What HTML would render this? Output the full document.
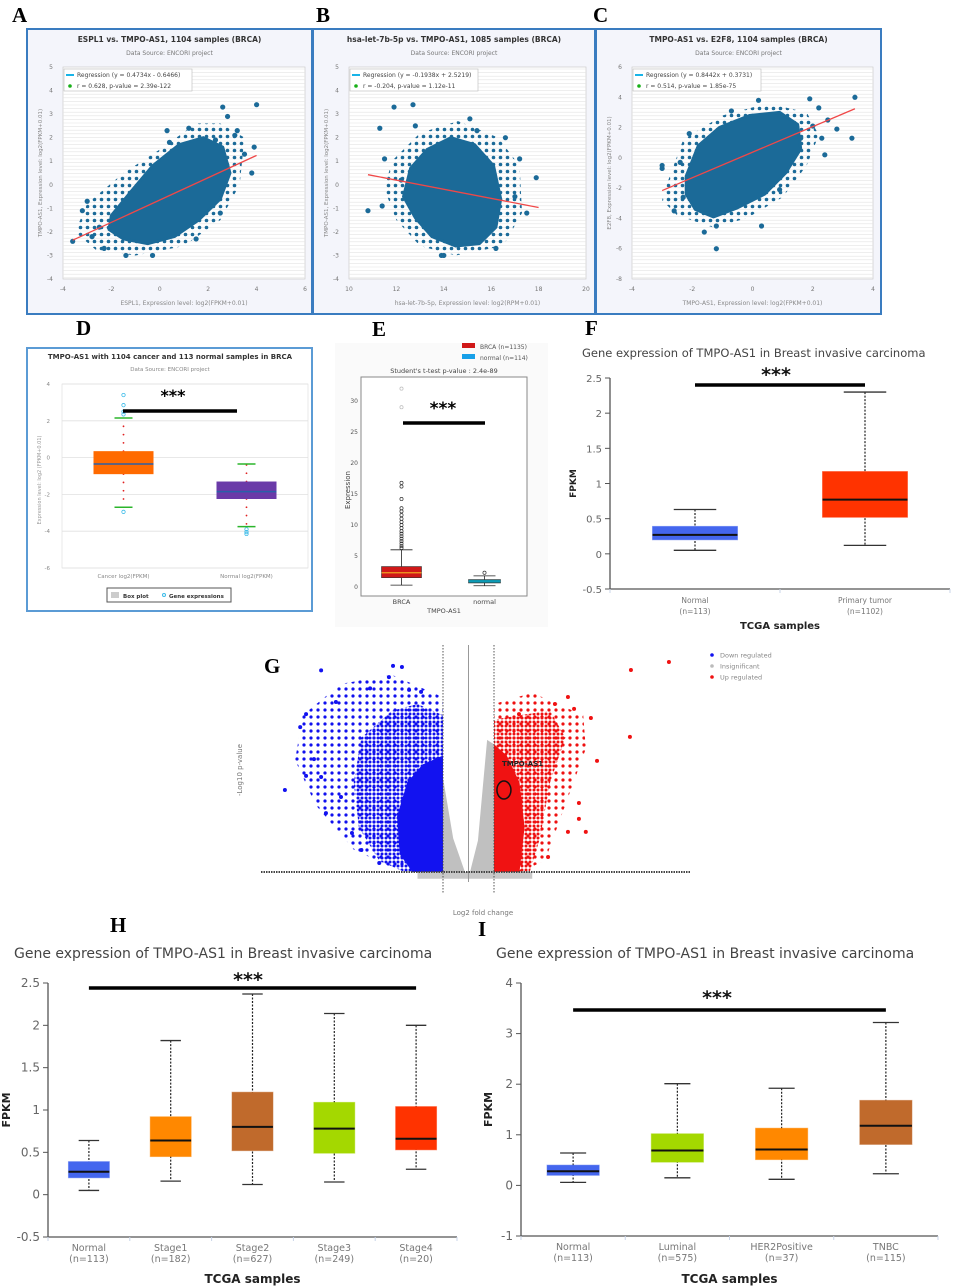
<!DOCTYPE html>
<html><head><meta charset="utf-8">
<style>
html,body{margin:0;padding:0;background:#fff;}
svg{display:block;font-family:"DejaVu Sans","Liberation Sans",sans-serif;}
.lbl{font-family:"Liberation Serif",serif;font-weight:bold;font-size:21px;fill:#000;}
</style></head>
<body>
<svg id="fig" width="955" height="1286" viewBox="0 0 955 1286" xmlns="http://www.w3.org/2000/svg">
<defs>
<pattern id="bluemed" width="4" height="4" patternUnits="userSpaceOnUse"><circle cx="2" cy="2" r="1.5" fill="#1010ee"/></pattern>
<pattern id="bluesparse" width="7" height="7" patternUnits="userSpaceOnUse"><circle cx="3" cy="3" r="1.6" fill="#1010ee"/></pattern>
<pattern id="redmed" width="4" height="4" patternUnits="userSpaceOnUse"><circle cx="2" cy="2" r="1.5" fill="#ee1010"/></pattern>
<pattern id="redsparse" width="7" height="7" patternUnits="userSpaceOnUse"><circle cx="3" cy="3" r="1.6" fill="#ee1010"/></pattern>
<pattern id="scatdots" width="7" height="7" patternUnits="userSpaceOnUse"><circle cx="3.5" cy="3.5" r="1.8" fill="#1b6a98"/></pattern>
</defs>
<text class="lbl" x="12" y="22">A</text>
<text class="lbl" x="316" y="22">B</text>
<text class="lbl" x="593" y="22">C</text>
<text class="lbl" x="76" y="335">D</text>
<text class="lbl" x="372" y="336">E</text>
<text class="lbl" x="585" y="335">F</text>
<text class="lbl" x="264" y="673">G</text>
<text class="lbl" x="110" y="932">H</text>
<text class="lbl" x="478" y="936">I</text>
</svg>
<script>
// ===== Panel A data =====
const aCloudX=[-2.0,-1.2,-0.3,0.8,1.8,2.6,2.9,2.5,1.6,0.6,-0.5,-1.5,-2.1];
const aCloudY=[-1.3,-0.3,0.8,1.7,2.0,1.6,0.5,-0.6,-1.5,-2.2,-2.5,-2.3,-1.9];
const aSparseX=[-3.0,-1.5,0.0,1.5,2.5,3.5,3.3,2.5,1.0,-1.0,-2.6,-3.5];
const aSparseY=[-0.8,0.5,1.5,2.6,2.6,2.0,0.0,-1.5,-2.6,-3.0,-2.8,-2.0];
const aPtsX=[-3.6,-3.0,-2.5,-2.3,-1.4,-0.3,2.6,4.0,2.8,1.2,3.2,3.9,3.8,3.5,-3.2,-2.8,2.3,0.4,1.5,2.5,3.1,0.3];
const aPtsY=[-2.4,-0.7,-1.8,-2.7,-3.0,-3.0,3.3,3.4,2.9,2.4,2.3,1.6,0.5,1.3,-1.1,-2.2,1.9,1.8,-2.3,-1.2,2.1,2.3];
const aXTicks=[-4,-2,0,2,4,6];
const aYTicks=[5,4,3,2,1,0,-1,-2,-3,-4];
const aReg=[0.4734,-0.6466]; const aRegRange=[-3.6,4.0];
// ===== Panel B data =====
const bCloudX=[12.6,13.3,14.3,15.3,16.1,16.4,16.2,15.5,14.5,13.5,12.8,12.3];
const bCloudY=[0.7,1.5,2.0,1.7,0.8,-0.6,-1.8,-2.5,-2.6,-2.2,-1.4,-0.5];
const bSparseX=[11.8,13.0,14.6,16.3,17.2,17.3,16.5,14.5,13.0,12.0,11.5];
const bSparseY=[1.0,2.2,2.7,2.0,0.8,-1.2,-2.6,-3.0,-2.6,-1.5,-0.2];
const bPtsX=[11.9,12.7,12.8,11.3,11.5,10.8,11.4,15.1,15.4,16.6,17.2,17.9,17.5,13.9,14.0,16.2,12.2,17.0];
const bPtsY=[3.3,3.4,2.5,2.4,1.1,-1.1,-0.9,2.8,2.3,2.0,1.1,0.3,-1.2,-3.0,-3.0,-2.7,0.2,-0.5];
const bXTicks=[10,12,14,16,18,20];
const bYTicks=[5,4,3,2,1,0,-1,-2,-3,-4];
const bReg=[-0.1938,2.5219]; const bRegRange=[10.8,18.0];
// ===== Panel C data =====
const cCloudX=[-2.2,-1.8,-1.1,-0.1,0.9,1.5,1.6,1.1,0.4,-0.5,-1.3,-1.9,-2.2];
const cCloudY=[-1.2,0.8,2.0,2.8,3.0,2.2,0.6,-1.0,-2.4,-3.3,-3.9,-3.4,-2.4];
const cSparseX=[-2.8,-2.3,-1.0,0.5,1.8,2.2,1.8,1.0,-0.2,-1.3,-2.5,-3.0];
const cSparseY=[-1.5,1.2,2.8,3.6,3.0,1.5,-0.5,-2.6,-4.0,-4.6,-3.8,-2.8];
const cPtsX=[-3.0,-3.0,-2.6,-2.3,-1.6,-1.2,-1.2,0.3,-0.7,0.2,1.9,3.4,2.2,2.8,3.3,2.4,2.3,2.5,-2.1,-2.4,0.9,1.6,2.0];
const cPtsY=[-0.5,-0.7,-3.5,-2.6,-4.9,-6.0,-4.5,-4.5,3.1,3.8,3.9,4.0,3.3,1.9,1.3,0.2,1.3,2.5,1.6,-0.3,-2.1,1.3,2.1];
const cXTicks=[-4,-2,0,2,4];
const cYTicks=[6,4,2,0,-2,-4,-6,-8];
const cReg=[0.8442,0.3731]; const cRegRange=[-3.0,3.4];
// ===== Panel D data =====
const dCats=["Cancer log2(FPKM)","Normal log2(FPKM)"];
const dMin=[-2.7,-3.75], dQ1=[-0.9,-2.25], dMed=[-0.35,-1.85], dQ3=[0.35,-1.3], dMax=[2.15,-0.35];
const dOutliers=[[3.4,2.85,2.5,2.35,-2.95],[-3.9,-4.05,-4.15]];
const dYTicks=[4,2,0,-2,-4,-6];
// ===== Panel E data =====
const eCats=["BRCA","normal"];
const eMin=[0.3,0.2], eQ1=[1.5,0.65], eMed=[2.3,0.95], eQ3=[3.3,1.2], eMax=[6.0,1.8];
const eOutliers=[[6.3,6.6,7.0,7.4,7.8,8.2,8.6,9.0,9.5,10.0,10.5,11.0,11.6,12.2,12.7,14.2,16.2,16.8,29.0,32.0],[2.3]];
const eYTicks=[0,5,10,15,20,25,30];
// ===== Panel F data =====
const fCats=["Normal","Primary tumor"], fN=["(n=113)","(n=1102)"];
const fMin=[0.05,0.12], fQ1=[0.2,0.52], fMed=[0.27,0.77], fQ3=[0.39,1.17], fMax=[0.63,2.3];
const fYTicks=[2.5,2,1.5,1,0.5,0,-0.5];
// ===== Panel H data =====
const hCats=["Normal","Stage1","Stage2","Stage3","Stage4"], hN=["(n=113)","(n=182)","(n=627)","(n=249)","(n=20)"];
const hMin=[0.05,0.16,0.12,0.15,0.3], hQ1=[0.2,0.45,0.52,0.49,0.53], hMed=[0.27,0.64,0.8,0.78,0.66], hQ3=[0.39,0.92,1.21,1.09,1.04], hMax=[0.64,1.82,2.37,2.14,2.0];
const hYTicks=[2.5,2,1.5,1,0.5,0,-0.5];
// ===== Panel I data =====
const iCats=["Normal","Luminal","HER2Positive","TNBC"], iN=["(n=113)","(n=575)","(n=37)","(n=115)"];
const iMin=[0.06,0.15,0.12,0.23], iQ1=[0.2,0.46,0.51,0.81], iMed=[0.28,0.69,0.71,1.18], iQ3=[0.4,1.02,1.13,1.68], iMax=[0.64,2.01,1.92,3.22];
const iYTicks=[4,3,2,1,0,-1];
// ===== Panel G (volcano) data =====
const gBlueDenseX=[-1,-1,-1.8,-2.4,-2.8,-2.7,-2.2];
const gBlueDenseY=[0,52,48,40,25,8,0];
const gBlueMedX=[-1,-1,-2,-3,-4.2,-4.5,-4.3,-3.5,-2.5];
const gBlueMedY=[0,70,75,72,60,40,20,5,0];
const gBlueSparseX=[-1,-1,-3,-5,-6.5,-6.8,-6,-4.5,-3];
const gBlueSparseY=[0,78,88,84,70,50,30,10,2];
const gRedDenseX=[1,1,1.5,2.0,2.2,2.0];
const gRedDenseY=[0,57,52,40,20,0];
const gRedMedX=[1,1,2,3.2,3.8,3.2,2.8,2.4];
const gRedMedY=[0,68,70,72,60,40,15,0];
const gRedSparseX=[1,1,2.5,4.5,4.6,3.8,3.0,2.0];
const gRedSparseY=[0,75,80,70,55,30,5,0];
const gGreyLX=[-1,-1,-0.6,-0.14]; const gGreyLY=[0,42,15,0];
const gGreyRX=[1,1,0.73,0.37,0.06]; const gGreyRY=[0,57,59,14,0];
const gGreyBandX=[-2,2.5,2.5,-2]; const gGreyBandY=[0,0,-3,-3];
const gBlueX=[-5.78,-2.96,-2.61,-6.37,-6.6,-7.2,-6.06,-5.59,-5.2,-4.57,-4.2,-3.5,-3.86,-1.86,-2.33,-3.12,-6.37,-5.0,-5.78];
const gBlueY=[90,92,91.5,70.5,64.7,36.6,50.4,26.3,75.9,17.4,9.8,4,82,80.4,81.3,87,42.9,33.5,42.4];
const gRedX=[7.86,6.37,6.33,3.9,3.39,4.14,4.8,5.04,4.33,4.33,4.6,3.9,3.12,1.98];
const gRedY=[93.75,90.2,60.3,78.1,75,72.8,68.75,49.6,30.8,23.7,17.9,17.9,6.7,70.5];
const gTarget=[1.39,36.6];

const NS="http://www.w3.org/2000/svg";
const fig=document.getElementById('fig');
function el(tag,attrs,parent,txt){const e=document.createElementNS(NS,tag);for(const k in attrs)e.setAttribute(k,attrs[k]);if(txt!==undefined)e.textContent=txt;(parent||fig).appendChild(e);return e;}
function lin(d0,d1,p0,p1){return v=>p0+(v-d0)*(p1-p0)/(d1-d0);}

// ================= scatter panels =================
function scatterPanel(name,geo,title,xlab,ylab,regTxt,statTxt,cx,cy,sx,sy,px,py,xt,yt,reg,rr){
  const g=el('g',{},fig);  
  el('rect',{x:geo.bx,y:29,width:geo.bw,height:285,fill:'#f4f5fb',stroke:'#3a7cc0','stroke-width':2},g);
  const t=el('text',{x:geo.bx+geo.bw/2,y:42,'text-anchor':'middle','font-size':7.5,'font-weight':'bold',fill:'#333'},g,title);
   
  el('text',{x:geo.bx+geo.bw/2,y:55,'text-anchor':'middle','font-size':6,fill:'#777'},g,'Data Source: ENCORI project');
  const X=lin(geo.xd[0],geo.xd[1],geo.px0,geo.px1), Y=lin(geo.yd[0],geo.yd[1],67,279);
  el('rect',{x:geo.px0,y:67,width:geo.px1-geo.px0,height:212,fill:'#fff',stroke:'#ccc','stroke-width':0.7},g);
  for(let yy=69;yy<279;yy+=3.6) el('line',{x1:geo.px0,x2:geo.px1,y1:yy,y2:yy,stroke:'#e3e3e3','stroke-width':0.6},g);
  xt.forEach(v=>{const tk=el('text',{x:X(v),y:291,'text-anchor':'middle','font-size':6,fill:'#777'},g,v);  });
  yt.forEach(v=>{const tk=el('text',{x:geo.px0-10,y:Y(v)+2,'text-anchor':'end','font-size':6,fill:'#777'},g,v);  });
  const xl=el('text',{x:(geo.px0+geo.px1)/2,y:305,'text-anchor':'middle','font-size':6,fill:'#888'},g,xlab);  
  const yl=el('text',{x:0,y:0,'text-anchor':'middle','font-size':5.5,fill:'#888',transform:`translate(${geo.px0-21},173) rotate(-90)`},g,ylab);  
  const sp=el('polygon',{points:sx.map((v,i)=>X(v)+','+Y(sy[i])).join(' '),fill:'url(#scatdots)'},g);
   
  const cloud=el('polygon',{points:cx.map((v,i)=>X(v)+','+Y(cy[i])).join(' '),fill:'#1b6a98',stroke:'#1b6a98','stroke-width':3,'stroke-linejoin':'round'},g);
   
  px.forEach((v,i)=>{const c=el('circle',{cx:X(v),cy:Y(py[i]),r:2.6,fill:'#1b6a98'},g);  });
  const rl=el('line',{x1:X(rr[0]),y1:Y(reg[0]*rr[0]+reg[1]),x2:X(rr[1]),y2:Y(reg[0]*rr[1]+reg[1]),stroke:'#f04848','stroke-width':1.3},g);
   
  const lg=el('g',{},g);  
  el('rect',{x:geo.px0+1,y:69,width:128,height:22,fill:'#fff',stroke:'#bbb','stroke-width':0.6},lg);
  el('line',{x1:geo.px0+3,x2:geo.px0+11,y1:75,y2:75,stroke:'#18b4e8','stroke-width':2},lg);
  el('text',{x:geo.px0+14,y:77,'font-size':6,fill:'#444'},lg,regTxt);
  el('circle',{cx:geo.px0+7,cy:86,r:1.8,fill:'#18b018'},lg);
  el('text',{x:geo.px0+14,y:88,'font-size':6,fill:'#444'},lg,statTxt);
}
scatterPanel('scatter-panel-a',{bx:27,bw:285,xd:[-4,6],yd:[5,-4],px0:63,px1:305},'ESPL1 vs. TMPO-AS1, 1104 samples (BRCA)','ESPL1, Expression level: log2(FPKM+0.01)','TMPO-AS1, Expression level: log2(FPKM+0.01)','Regression (y = 0.4734x - 0.6466)','r = 0.628, p-value = 2.39e-122',aCloudX,aCloudY,aSparseX,aSparseY,aPtsX,aPtsY,aXTicks,aYTicks,aReg,aRegRange);
scatterPanel('scatter-panel-b',{bx:313,bw:282,xd:[10,20],yd:[5,-4],px0:349,px1:586},'hsa-let-7b-5p vs. TMPO-AS1, 1085 samples (BRCA)','hsa-let-7b-5p, Expression level: log2(RPM+0.01)','TMPO-AS1, Expression level: log2(FPKM+0.01)','Regression (y = -0.1938x + 2.5219)','r = -0.204, p-value = 1.12e-11',bCloudX,bCloudY,bSparseX,bSparseY,bPtsX,bPtsY,bXTicks,bYTicks,bReg,bRegRange);
scatterPanel('scatter-panel-c',{bx:596,bw:285,xd:[-4,4],yd:[6,-8],px0:632,px1:873},'TMPO-AS1 vs. E2F8, 1104 samples (BRCA)','TMPO-AS1, Expression level: log2(FPKM+0.01)','E2F8, Expression level: log2(FPKM+0.01)','Regression (y = 0.8442x + 0.3731)','r = 0.514, p-value = 1.85e-75',cCloudX,cCloudY,cSparseX,cSparseY,cPtsX,cPtsY,cXTicks,cYTicks,cReg,cRegRange);

// ================= Panel D =================
(function(){
  const g=el('g',{},fig);  
  el('rect',{x:27,y:348,width:285,height:263,fill:'#fff',stroke:'#5b9bd5','stroke-width':2},g);
  el('text',{x:170,y:359,'text-anchor':'middle','font-size':7,'font-weight':'bold',fill:'#333'},g,'TMPO-AS1 with 1104 cancer and 113 normal samples in BRCA');
  el('text',{x:170,y:371,'text-anchor':'middle','font-size':5.5,fill:'#888'},g,'Data Source: ENCORI project');
  const Y=lin(4,-6,384,568); const x0=62,x1=308,step=(x1-x0)/2;
  el('rect',{x:x0,y:384,width:x1-x0,height:184,fill:'#fff',stroke:'#ddd','stroke-width':0.6},g);
  dYTicks.forEach(v=>{el('line',{x1:x0,x2:x1,y1:Y(v),y2:Y(v),stroke:'#e0e0e0','stroke-width':0.8},g);
    const t=el('text',{x:x0-12,y:Y(v)+2,'text-anchor':'end','font-size':5.5,fill:'#888'},g,v);  });
  el('text',{x:0,y:0,'text-anchor':'middle','font-size':5,fill:'#999',transform:'translate(41,480) rotate(-90)'},g,'Expression level: log2 (FPKM+0.01)');
  const cols=['#ff6a00','#6a3aa8'];
  dCats.forEach((c,i)=>{
    const cx=x0+step*(i+0.5), hw=30;
    const b=el('g',{},g);  
    for(let v=dQ3[i];v<dMax[i];v+=0.45) el('circle',{cx:cx,cy:Y(v),r:0.9,fill:'#e02020'},b);
    for(let v=dQ1[i];v>dMin[i];v-=0.45) el('circle',{cx:cx,cy:Y(v),r:0.9,fill:'#e02020'},b);
    el('rect',{x:cx-hw,y:Y(dQ3[i]),width:hw*2,height:Y(dQ1[i])-Y(dQ3[i]),fill:cols[i]},b);
    el('line',{x1:cx-hw,x2:cx+hw,y1:Y(dMed[i]),y2:Y(dMed[i]),stroke:'#2a5fa8','stroke-width':1.5},b);
    [dMax[i],dMin[i]].forEach(v=>el('line',{x1:cx-9,x2:cx+9,y1:Y(v),y2:Y(v),stroke:'#2bb52b','stroke-width':1.5},b));
    dOutliers[i].forEach(v=>el('circle',{cx:cx,cy:Y(v),r:1.7,fill:'none',stroke:'#3bbbe8','stroke-width':0.8},b));
    el('text',{x:cx,y:578,'text-anchor':'middle','font-size':5.5,fill:'#888'},g,c);
  });
  el('line',{x1:123,x2:237,y1:411,y2:411,stroke:'#000','stroke-width':3.5},g);
  el('text',{x:173,y:401,'text-anchor':'middle','font-size':16,'font-weight':'bold',fill:'#000'},g,'***');
  const lg=el('g',{},g);  
  el('rect',{x:107,y:588,width:124,height:14,fill:'#fff',stroke:'#555','stroke-width':1},lg);
  el('rect',{x:111,y:592,width:8,height:6,fill:'#ccc'},lg);
  el('text',{x:123,y:598,'font-size':5.5,'font-weight':'bold',fill:'#333'},lg,'Box plot');
  el('circle',{cx:164,cy:595,r:1.5,fill:'none',stroke:'#3bbbe8'},lg);
  el('text',{x:169,y:598,'font-size':5.5,'font-weight':'bold',fill:'#333'},lg,'Gene expressions');
})();

// ================= Panel E =================
(function(){
  const g=el('g',{},fig);  
  el('rect',{x:335,y:343,width:213,height:284,fill:'#fafafa'},g);
  const Y=lin(0,30,587,401); const x0=361,x1=527,step=(x1-x0)/2;
  el('rect',{x:x0,y:377,width:x1-x0,height:219,fill:'#fff',stroke:'#888','stroke-width':1},g);
  eYTicks.forEach(v=>{const t=el('text',{x:x0-3,y:Y(v)+2,'text-anchor':'end','font-size':6,fill:'#555'},g,v);  });
  el('text',{x:0,y:0,'text-anchor':'middle','font-size':7,fill:'#444',transform:'translate(350,490) rotate(-90)'},g,'Expression');
  el('text',{x:444,y:373,'text-anchor':'middle','font-size':6.5,fill:'#444'},g,"Student's t-test p-value : 2.4e-89");
  const cols=['#d01818','#108898'], mcols=['#f0a020','#0aa0c0'];
  eCats.forEach((c,i)=>{
    const cx=x0+step*(i+0.5)-1, hw=i?16:20;
    const b=el('g',{},g);  
    el('line',{x1:cx,x2:cx,y1:Y(eMin[i]),y2:Y(eMax[i]),stroke:'#222','stroke-width':0.8},b);
    [eMin[i],eMax[i]].forEach(v=>el('line',{x1:cx-11,x2:cx+11,y1:Y(v),y2:Y(v),stroke:'#222','stroke-width':0.8},b));
    eOutliers[i].forEach(v=>el('circle',{cx:cx,cy:Y(v),r:1.6,fill:'none',stroke:v>20?'#bbb':'#333','stroke-width':0.7},b));
    el('rect',{x:cx-hw,y:Y(eQ3[i]),width:hw*2,height:Y(eQ1[i])-Y(eQ3[i]),fill:cols[i],stroke:'#333','stroke-width':0.6},b);
    el('line',{x1:cx-hw,x2:cx+hw,y1:Y(eMed[i]),y2:Y(eMed[i]),stroke:mcols[i],'stroke-width':1.3},b);
    el('text',{x:cx,y:604,'text-anchor':'middle','font-size':6.5,fill:'#444'},g,c);
  });
  el('text',{x:444,y:613,'text-anchor':'middle','font-size':6.5,fill:'#444'},g,'TMPO-AS1');
  el('line',{x1:403,x2:485,y1:423,y2:423,stroke:'#000','stroke-width':3.5},g);
  el('text',{x:443,y:414,'text-anchor':'middle','font-size':17,'font-weight':'bold',fill:'#000'},g,'***');
  const lg=el('g',{},g);  
  el('rect',{x:462,y:343,width:13,height:5,fill:'#d01818'},lg);
  el('text',{x:480,y:349,'font-size':6,fill:'#555'},lg,'BRCA (n=1135)');
  el('rect',{x:462,y:354,width:13,height:5,fill:'#18a0e8'},lg);
  el('text',{x:480,y:360,'font-size':6,fill:'#555'},lg,'normal (n=114)');
})();

// ================= FPKM boxplots (F, H, I) =================
function fpkmPanel(name,geo,title,cats,ns,mn,q1,md,q3,mx,cols,ticks,bar){
  const g=el('g',{},fig);  
  const t=el('text',{x:geo.tx,y:geo.ty,'font-size':geo.tfs,fill:'#444'},g,title);  
  const Y=lin(ticks[0],ticks[ticks.length-1],geo.yTop,geo.yBot);
  const step=(geo.x1-geo.x0)/cats.length;
  el('line',{x1:geo.x0,x2:geo.x0,y1:geo.yTop,y2:geo.yBot,stroke:'#555','stroke-width':1.3},g);
  el('line',{x1:geo.x0,x2:geo.x1,y1:geo.yBot,y2:geo.yBot,stroke:'#555','stroke-width':1.3},g);
  ticks.forEach(v=>{el('line',{x1:geo.x0-5,x2:geo.x0,y1:Y(v),y2:Y(v),stroke:'#555','stroke-width':1},g);
    const tk=el('text',{x:geo.x0-8,y:Y(v)+4,'text-anchor':'end','font-size':geo.fs,fill:'#666'},g,v);  });
  for(let k=0;k<=cats.length;k++) el('line',{x1:geo.x0+step*k,x2:geo.x0+step*k,y1:geo.yBot,y2:geo.yBot+4,stroke:'#c8d4e8','stroke-width':1},g);
  const yl=el('text',{x:0,y:0,'text-anchor':'middle','font-size':geo.fs-1,'font-weight':'bold',fill:'#222',transform:`translate(${geo.ylx},${(geo.yTop+geo.yBot)/2}) rotate(-90)`},g,'FPKM');  
  cats.forEach((c,i)=>{
    const cx=geo.x0+step*(i+0.5), hw=step*0.25;
    const b=el('g',{},g);  
    el('line',{x1:cx,x2:cx,y1:Y(mx[i]),y2:Y(mn[i]),stroke:'#222','stroke-width':1.2,'stroke-dasharray':'2,1.5'},b);
    [mx[i],mn[i]].forEach(v=>el('line',{x1:cx-hw/2,x2:cx+hw/2,y1:Y(v),y2:Y(v),stroke:'#333','stroke-width':1.3},b));
    el('rect',{x:cx-hw,y:Y(q3[i]),width:hw*2,height:Y(q1[i])-Y(q3[i]),fill:cols[i],stroke:cols[i],'stroke-opacity':0.5,'stroke-width':1},b);
    el('line',{x1:cx-hw,x2:cx+hw,y1:Y(md[i]),y2:Y(md[i]),stroke:'#111','stroke-width':2},b);
    const cl=el('text',{x:cx,y:geo.yBot+14,'text-anchor':'middle','font-size':geo.fs-2.5,fill:'#777'},g,c);  
    el('text',{x:cx,y:geo.yBot+25,'text-anchor':'middle','font-size':geo.fs-2.5,fill:'#777'},g,ns[i]);
  });
  const xl=el('text',{x:(geo.x0+geo.x1)/2,y:geo.xly,'text-anchor':'middle','font-size':geo.fs,'font-weight':'bold',fill:'#222'},g,'TCGA samples');  
  const c0=geo.x0+step*0.5, c1=geo.x0+step*(cats.length-0.5);
  const sb=el('line',{x1:c0,x2:c1,y1:bar.y,y2:bar.y,stroke:'#000','stroke-width':3.5},g);  
  el('text',{x:bar.sx,y:bar.sy,'text-anchor':'middle','font-size':19,'font-weight':'bold',fill:'#111'},g,'***');
}
fpkmPanel('boxplot-panel-f',{x0:610,x1:950,yTop:378,yBot:589,tx:582,ty:357,tfs:11.5,fs:10,ylx:576,xly:629},'Gene expression of TMPO-AS1 in Breast invasive carcinoma',fCats,fN,fMin,fQ1,fMed,fQ3,fMax,['#4466ee','#ff3300'],fYTicks,{y:385,sx:776,sy:381});
fpkmPanel('boxplot-panel-h',{x0:48,x1:457,yTop:983,yBot:1237,tx:14,ty:958,tfs:14,fs:12,ylx:10,xly:1283},'Gene expression of TMPO-AS1 in Breast invasive carcinoma',hCats,hN,hMin,hQ1,hMed,hQ3,hMax,['#4466ee','#ff8800','#c06a2c','#a4d800','#ff3300'],hYTicks,{y:988,sx:248,sy:986});
fpkmPanel('boxplot-panel-i',{x0:521,x1:938,yTop:983,yBot:1236,tx:496,ty:958,tfs:14,fs:12,ylx:492,xly:1283},'Gene expression of TMPO-AS1 in Breast invasive carcinoma',iCats,iN,iMin,iQ1,iMed,iQ3,iMax,['#4466ee','#a4d800','#ff8800','#c06a2c'],iYTicks,{y:1010,sx:717,sy:1004});

// ================= Panel G volcano =================
(function(){
  const g=el('g',{},fig);  
  const X=v=>468.5+v*25.5, Y=v=>872-v*2.24;
  const poly=(xs,ys,fill,nm)=>{const p=el('polygon',{points:xs.map((v,i)=>X(v)+','+Y(ys[i])).join(' '),fill:fill},g);  };
  poly(gBlueSparseX,gBlueSparseY,'url(#bluesparse)','down-sparse-region');
  poly(gRedSparseX,gRedSparseY,'url(#redsparse)','up-sparse-region');
  poly(gBlueMedX,gBlueMedY,'url(#bluemed)','down-medium-region');
  poly(gRedMedX,gRedMedY,'url(#redmed)','up-medium-region');
  poly(gGreyBandX,gGreyBandY,'#c8c8c8','insignificant-band');
  poly(gGreyLX,gGreyLY,'#c0c0c0','insignificant-left');
  poly(gGreyRX,gGreyRY,'#c0c0c0','insignificant-right');
  poly(gBlueDenseX,gBlueDenseY,'#1212f0','down-dense-region');
  poly(gRedDenseX,gRedDenseY,'#f01212','up-dense-region');
  gBlueX.forEach((v,i)=>{const c=el('circle',{cx:X(v),cy:Y(gBlueY[i]),r:2,fill:'#1212f0'},g);  });
  gRedX.forEach((v,i)=>{const c=el('circle',{cx:X(v),cy:Y(gRedY[i]),r:2,fill:'#f01212'},g);  });
  el('line',{x1:X(0),x2:X(0),y1:645,y2:882,stroke:'#999','stroke-width':1},g);
  [-1,1].forEach(v=>el('line',{x1:X(v),x2:X(v),y1:645,y2:893,stroke:'#444','stroke-width':0.9,'stroke-dasharray':'1.5,1.5'},g));
  el('line',{x1:261,x2:690,y1:Y(0),y2:Y(0),stroke:'#444','stroke-width':2,'stroke-dasharray':'1.5,1'},g);
  const tl=el('text',{x:X(gTarget[0])-2,y:Y(gTarget[1])-24,'font-size':7,'font-weight':'bold',fill:'#222'},g,'TMPO-AS1');  
  const tc=el('ellipse',{cx:X(gTarget[0]),cy:Y(gTarget[1]),rx:7,ry:9,fill:'none',stroke:'#111','stroke-width':1.5},g);  
  el('text',{x:483,y:915,'text-anchor':'middle','font-size':7,fill:'#777'},g,'Log2 fold change');
  el('text',{x:0,y:0,'text-anchor':'middle','font-size':7,fill:'#777',transform:'translate(242,770) rotate(-90)'},g,'-Log10 p-value');
  const lg=el('g',{},g);  
  [['#1212f0','Down regulated',655],['#bbbbbb','Insignificant',666],['#f01212','Up regulated',677]].forEach(r=>{
    el('circle',{cx:712,cy:r[2],r:1.8,fill:r[0]},lg); el('text',{x:720,y:r[2]+2.5,'font-size':6.5,fill:'#888'},lg,r[1]);});
})();
</script>
</body></html>
